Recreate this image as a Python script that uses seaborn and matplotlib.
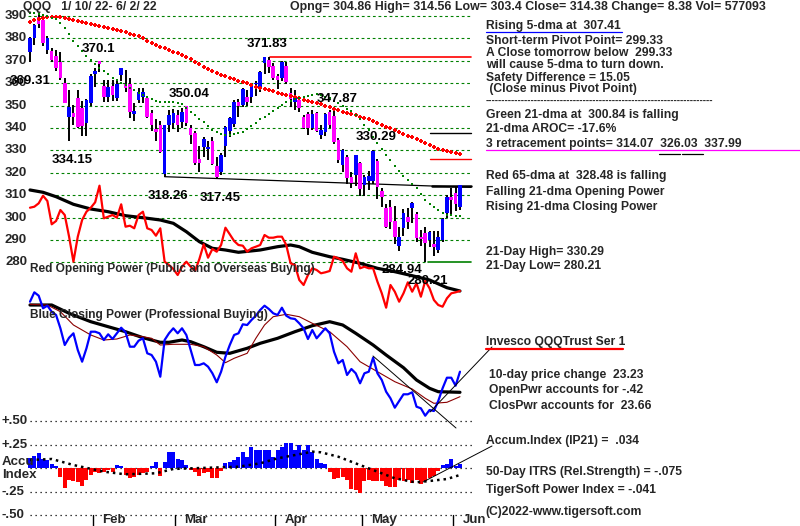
import numpy as np
import pandas as pd
import matplotlib
matplotlib.use("Agg")
import matplotlib.pyplot as plt
from matplotlib.lines import Line2D
import seaborn as sns

# ---------------- data ----------------
holidays = ["2022-01-17", "2022-02-21", "2022-04-15", "2022-05-30"]
dates = pd.bdate_range("2022-01-10", "2022-06-02")
dates = dates[~dates.isin(pd.to_datetime(holidays))]

opens = [374.0, 380.0, 389.7, 388.0, 374.8, 374.3, 372.1, 369.6, 360.0, 345.0,
         346.6, 353.3, 348.8, 342.3, 351.0, 364.0, 369.9, 358.8, 353.7, 358.8,
         353.5, 363.6, 359.6, 359.6, 346.3, 352.5, 354.0, 353.3, 346.6, 339.5,
         341.3, 319.5, 341.3, 342.1, 345.8, 342.9, 349.8, 340.0, 337.6, 326.0,
         331.7, 330.5, 334.3, 323.2, 320.2, 332.0, 338.5, 341.8, 351.5, 350.3,
         353.7, 353.7, 359.5, 358.5, 368.9, 370.4, 367.6, 363.0, 362.2, 367.7,
         355.8, 351.7, 352.6, 345.0, 346.3, 340.0, 346.6, 336.9, 338.0, 347.3,
         345.5, 334.5, 323.6, 327.2, 318.0, 319.0, 324.2, 314.6, 316.5, 316.3,
         325.4, 311.7, 304.3, 304.9, 298.6, 287.3, 295.2, 300.1, 304.4, 301.6,
         291.5, 293.3, 290.0, 288.2, 285.5, 290.0, 302.2, 309.3, 310.9, 304.86]
highs = [380.5, 386.5, 390.4, 388.5, 381.0, 375.5, 374.8, 374.0, 362.3, 357.0,
         350.3, 357.0, 352.0, 353.0, 364.0, 366.6, 370.1, 361.4, 361.5, 361.4,
         362.0, 367.0, 366.0, 362.5, 351.0, 358.0, 358.0, 354.5, 348.0, 344.0,
         343.0, 341.5, 348.0, 348.5, 348.0, 349.0, 350.04, 341.5, 338.5, 332.0,
         336.0, 334.0, 336.0, 327.0, 329.0, 341.0, 345.0, 352.5, 353.0, 358.0,
         357.0, 360.0, 361.0, 365.5, 371.83, 371.5, 369.0, 364.0, 370.0, 369.5,
         358.0, 357.0, 353.5, 346.0, 347.0, 347.87, 347.0, 341.5, 346.5, 348.0,
         348.0, 335.5, 330.5, 328.0, 320.5, 328.0, 325.0, 319.0, 320.6, 330.29,
         326.0, 313.0, 306.0, 308.0, 305.0, 296.0, 304.0, 304.5, 306.8, 302.5,
         294.5, 296.0, 294.0, 294.0, 294.0, 300.0, 310.0, 313.0, 313.5, 314.56]
lows = [369.31, 377.0, 384.5, 376.5, 373.0, 369.6, 365.5, 361.5, 351.0, 334.15,
        341.3, 340.0, 336.5, 336.6, 350.0, 358.5, 365.0, 351.7, 351.5, 352.0,
        352.0, 361.0, 356.0, 344.5, 343.0, 351.0, 351.0, 344.5, 338.5, 334.0,
        329.0, 318.26, 338.0, 339.5, 338.0, 340.0, 341.0, 333.0, 323.5, 320.5,
        327.0, 325.5, 323.5, 317.45, 319.0, 327.0, 336.0, 340.5, 345.0, 349.5,
        350.0, 351.0, 354.5, 356.0, 364.0, 364.5, 361.5, 357.5, 361.0, 359.5,
        349.5, 348.0, 347.0, 339.5, 337.0, 339.0, 338.0, 335.0, 336.5, 340.0,
        333.0, 324.5, 320.5, 315.0, 313.0, 314.0, 309.8, 309.8, 312.5, 315.0,
        308.5, 304.9, 295.5, 295.0, 288.0, 284.94, 292.0, 295.0, 297.5, 289.3,
        287.5, 280.21, 287.0, 283.0, 284.0, 289.0, 300.0, 301.0, 303.0, 303.4]
closes = [380.0, 386.0, 386.5, 377.8, 380.3, 370.4, 366.7, 362.2, 351.3, 349.2,
          344.8, 340.6, 341.0, 352.4, 363.2, 365.4, 368.4, 353.7, 358.5, 354.9,
          359.6, 366.6, 357.7, 347.3, 347.8, 356.2, 356.0, 345.0, 341.3, 338.0,
          329.4, 341.3, 345.8, 346.6, 341.3, 347.3, 342.1, 336.9, 324.2, 324.5,
          335.0, 331.7, 323.9, 318.3, 328.1, 340.3, 344.4, 351.7, 350.0, 357.3,
          351.7, 359.6, 359.8, 365.1, 371.6, 367.1, 362.2, 361.4, 369.6, 360.6,
          352.9, 354.1, 348.8, 340.0, 339.9, 346.3, 338.5, 338.9, 346.3, 341.3,
          333.9, 325.7, 330.0, 317.8, 315.5, 328.0, 312.6, 318.3, 318.6, 329.9,
          313.5, 309.1, 296.0, 298.2, 291.5, 291.5, 302.2, 298.2, 306.7, 290.8,
          290.5, 288.8, 293.7, 286.7, 291.2, 299.4, 309.0, 307.9, 306.0, 314.38]

ma65 = [387.5, 388.2, 388.8, 389.3, 389.5, 389.6, 389.6, 389.5, 389.2, 388.8,
        388.3, 387.9, 387.4, 386.9, 386.4, 385.9, 385.4, 385.0, 384.5, 384.1,
        383.6, 383.2, 382.8, 382.1, 381.6, 381.0, 380.0, 378.9, 377.8, 377.0,
        376.3, 375.5, 374.8, 374.1, 373.3, 372.6, 371.8, 370.7, 369.6, 368.5,
        367.4, 366.4, 365.4, 364.4, 363.7, 363.0, 362.4, 361.7, 361.1, 360.6,
        360.0, 359.3, 358.5, 357.8, 357.3, 356.8, 356.3, 355.8, 355.3, 354.7,
        354.2, 353.7, 353.2, 352.7, 352.2, 351.7, 351.1, 350.5, 349.8, 349.2,
        348.5, 347.9, 347.3, 346.7, 346.1, 345.6, 345.0, 344.4, 343.9, 343.3,
        342.4, 341.5, 340.6, 339.8, 339.0, 338.1, 337.3, 336.5, 335.8, 335.0,
        334.3, 333.4, 332.5, 331.5, 330.6, 330.1, 329.6, 329.1, 328.7, 328.48]
ma21 = [391.5, 391.2, 390.8, 390.3, 389.8, 389.3, 388.6, 387.0, 384.8, 381.8,
        379.0, 376.8, 374.3, 372.3, 370.5, 368.5, 366.6, 365.3, 363.9, 362.5,
        361.5, 360.3, 359.0, 357.8, 356.8, 355.8, 354.8, 353.8, 352.9, 352.0,
        351.7, 351.6, 351.6, 351.5, 351.2, 350.6, 348.8, 347.2, 345.7, 344.2,
        342.7, 341.0, 339.3, 338.2, 337.2, 336.9, 336.9, 337.2, 337.8, 338.2,
        339.6, 340.9, 342.3, 343.9, 345.1, 346.3, 347.6, 349.0, 350.3, 351.5,
        352.2, 352.9, 353.5, 354.0, 354.5, 354.9, 355.0, 354.8, 354.0, 353.2,
        352.2, 351.0, 349.8, 348.5, 347.5, 345.8, 343.8, 341.5, 339.0, 336.0,
        333.2, 330.5, 328.0, 325.5, 323.2, 320.9, 318.5, 316.8, 315.2, 313.0,
        310.4, 307.9, 306.1, 304.6, 303.3, 302.2, 301.3, 301.0, 300.8, 300.84]

# Opening Power / Closing Power (arbitrary power units)
open_power = [222.3, 223.3, 226.7, 234.3, 229.0, 205.7, 209.0, 220.0, 215.0, 193.3,
              168.3, 193.3, 210.0, 218.3, 222.3, 227.7, 244.3, 211.7, 213.3, 215.0,
              212.3, 225.7, 203.3, 204.3, 201.7, 215.0, 218.3, 201.7, 200.0, 194.3,
              201.7, 168.3, 165.0, 161.0, 155.0, 163.3, 168.3, 163.3, 159.0, 171.0,
              185.7, 172.3, 181.0, 178.3, 185.0, 202.3, 195.7, 189.0, 185.0, 184.3,
              178.3, 181.7, 183.3, 185.0, 195.0, 192.3, 192.3, 193.3, 193.3, 185.0,
              166.7, 165.0, 150.0, 145.0, 155.0, 161.7, 160.0, 156.7, 157.7, 159.0,
              173.3, 171.7, 169.0, 161.7, 158.3, 176.7, 161.7, 163.3, 161.7, 161.7,
              148.3, 136.7, 122.3, 145.0, 138.3, 128.3, 136.7, 147.7, 138.3, 146.7,
              133.3, 149.0, 141.7, 130.0, 125.0, 123.3, 131.7, 136.7, 137.7, 139.0]
op_ma_x = [0, 3, 6, 10, 14, 18, 22, 26, 30, 33, 36, 39, 42, 45, 48, 53, 57, 60,
           62, 65, 69, 72, 76, 80, 84, 88, 92, 96, 99]
op_ma = [240.0, 237.7, 233.3, 225.7, 221.0, 218.3, 214.3, 212.3, 210.0, 206.7,
         198.3, 188.3, 181.7, 180.0, 177.7, 180.0, 183.3, 185.0, 183.3, 177.7,
         173.3, 170.7, 166.7, 161.7, 158.3, 154.3, 150.0, 142.3, 139.0]

close_power = [128.3, 137.7, 134.3, 121.7, 124.3, 118.3, 115.0, 101.7, 85.0, 92.3,
               96.7, 80.0, 68.3, 81.7, 98.3, 98.3, 96.7, 90.0, 95.7, 91.0,
               96.7, 102.3, 97.7, 83.3, 83.3, 89.3, 91.7, 76.7, 75.0, 68.3,
               53.3, 90.0, 96.7, 101.7, 96.7, 101.7, 95.0, 80.0, 65.0, 65.0,
               66.7, 63.3, 56.7, 47.7, 58.3, 73.3, 85.0, 95.0, 96.7, 105.7,
               105.0, 110.0, 114.3, 120.0, 124.3, 121.0, 116.7, 115.0, 122.3, 114.3,
               111.7, 111.0, 106.7, 101.7, 91.0, 100.0, 91.7, 96.7, 101.7, 96.7,
               78.3, 66.7, 70.0, 55.0, 61.0, 56.7, 46.7, 56.7, 58.3, 72.3,
               56.7, 50.0, 38.3, 31.7, 22.3, 29.0, 35.7, 35.7, 37.7, 23.3,
               21.7, 14.3, 20.0, 19.0, 29.0, 41.7, 52.3, 52.3, 44.3, 58.3]
cp_ma_x = [0, 5, 9, 14, 18, 22, 26, 30, 32, 35, 37, 40, 43, 46, 50, 53, 57, 61,
           65, 69, 72, 75, 79, 82, 86, 89, 92, 94, 99]
cp_ma = [125.0, 125.0, 116.7, 108.3, 103.3, 98.3, 92.3, 87.7, 87.7, 90.0,
         88.3, 83.3, 77.7, 76.7, 81.7, 86.7, 91.7, 98.3, 104.3, 108.3,
         105.0, 96.7, 85.0, 75.0, 62.3, 50.0, 41.7, 38.3, 37.7]
cp_ma2_x = [0, 4, 7, 10, 14, 17, 20, 23, 26, 28, 30, 33, 37, 40, 43, 45, 47, 50,
            52, 54, 56, 59, 62, 65, 69, 73, 76, 80, 84, 88, 91, 93, 96, 99]
cp_ma2 = [125.7, 125.0, 118.3, 105.0, 95.0, 90.0, 91.0, 95.0, 93.3, 91.7,
          85.0, 85.7, 85.7, 83.3, 75.0, 67.3, 71.7, 76.7, 91.7, 105.0,
          113.3, 115.7, 113.3, 106.7, 98.3, 83.3, 68.3, 58.3, 48.3, 41.0,
          31.7, 26.7, 27.7, 33.3]

accum = [0.106, 0.13, 0.166, 0.096, 0.088, 0.046, 0.02, -0.09, -0.21, -0.12,
         -0.13, -0.15, -0.19, -0.125, -0.07, -0.036, -0.05, -0.04, -0.02, -0.035,
         0.035, 0.02, -0.07, -0.106, -0.09, -0.07, -0.053, -0.035, 0.02, 0.07,
         -0.08, 0.07, 0.177, 0.177, 0.096, 0.088, 0.035, -0.02, -0.035, -0.08,
         -0.05, -0.035, -0.106, -0.106, -0.03, 0.053, 0.07, 0.088, 0.124, 0.177,
         0.124, 0.23, 0.195, 0.19, 0.19, 0.19, 0.124, 0.2, 0.23, 0.27,
         0.27, 0.2, 0.248, 0.19, 0.248, 0.177, 0.096, 0.06, 0.046, -0.035,
         -0.117, -0.106, -0.09, -0.124, -0.223, -0.23, -0.266, -0.14, -0.124, -0.14,
         -0.14, -0.13, -0.19, -0.195, -0.2, -0.124, -0.14, -0.124, -0.16, -0.124,
         -0.165, -0.14, -0.106, -0.08, -0.03, 0.035, 0.046, 0.096, 0.025, 0.046]
ai_ma_x = [0, 5, 10, 17, 22, 29, 33, 48, 53, 57, 61, 65, 67, 71, 74, 77, 80, 84,
           88, 89, 92, 96, 99]
ai_ma = [0.088, 0.099, 0.035, -0.036, -0.064, -0.053, -0.007, 0.017, 0.053, 0.106,
         0.141, 0.177, 0.17, 0.123, 0.07, 0.017, -0.036, -0.106, -0.143, -0.149,
         -0.135, -0.114, -0.071]

price_ticks = [390, 380, 370, 360, 350, 340, 330, 320, 310, 300, 290, 280]
ai_ticks = [0.50, 0.25, 0.0, -0.25, -0.50]
ai_tick_labels = ["+.50", "+.25", "", "-.25", "-.50"]
retrace = [314.07, 326.03, 337.99]
high_371 = 371.83
low21 = 280.21
trend_lows = [(31, 318.26), (43, 317.45)]

peak_labels = [("370.1", 82, 49), ("369.31", 10, 81), ("334.15", 52, 160),
               ("350.04", 169, 94), ("318.26", 148, 196), ("317.45", 200, 198),
               ("371.83", 247, 44), ("347.87", 317, 99), ("330.29", 356, 137),
               ("284.94", 382, 270), ("280.21", 408, 281)]

# ---------------- layout helpers ----------------
W, H = 800, 526
X0, DX = 30.0, 4.343          # pixel of first bar, pixels per trading day
def xi(px):
    return (px - X0) / DX
XL = (xi(0), xi(W))
PY0, PPD = 16.0, 2.24         # pixel of 390 gridline, pixels per dollar
def pr(pyx):
    return 390 - (pyx - PY0) / PPD
POW0 = 430.0                  # power units = POW0 - pixel
AI0, AIS = 468.3, 94.0        # zero pixel, pixels per 1.0 of accum index

sns.set_theme(style="white")
plt.rcParams["font.family"] = ["Liberation Sans", "DejaVu Sans"]
plt.rcParams["font.weight"] = "bold"

fig = plt.figure(figsize=(8, 5.26), dpi=100)
fig.patch.set_facecolor("white")
axp = fig.add_axes([0, 0, 1, 1])
axw = fig.add_axes([0, 0, 1, 1])
axa = fig.add_axes([0, 0, 1, 1])
axp.set_ylim(pr(H), pr(0))
axw.set_ylim(POW0 - H, POW0)
axa.set_ylim((AI0 - H) / AIS, AI0 / AIS)
for a in (axp, axw, axa):
    a.set_xlim(*XL)
    a.set_axis_off()
    a.patch.set_alpha(0)

idx = np.arange(len(dates))
BLUE, MAG, RED, GRN = "#0000ff", "#ff00ff", "#ff0000", "#008000"

# ---------------- price panel ----------------
gx0, gx1 = xi(50), xi(472)
for p in price_ticks:
    x0 = xi(28) if p == 390 else gx0
    x1 = xi(428) if p == 280 else gx1
    axp.plot([x0, x1], [p, p], color=GRN, lw=0.8, ls=(0, (2.5, 2.5)), zorder=1)
    fig.text(27 / W, 1 - (PY0 + (390 - p) * PPD) / H, str(p), ha="right",
             va="center", fontsize=9.5, fontweight="bold")
axp.plot([xi(428), xi(471)], [low21, low21], color=GRN, lw=1.2, zorder=1)

# trendline through the two lows
(tx0, ty0), (tx1, ty1) = trend_lows
slope = (ty1 - ty0) / (tx1 - tx0)
tx2 = xi(471)
axp.plot([tx0, tx2], [ty0, ty0 + slope * (tx2 - tx0)], color="black", lw=0.9, zorder=2)
axp.plot([xi(270), xi(471)], [high_371, high_371], color=RED, lw=1.2, zorder=2)
axp.plot([xi(430), xi(471)], [retrace[2], retrace[2]], color="black", lw=1.0, zorder=2)
axp.plot([xi(430), xi(471)], [retrace[1], retrace[1]], color=RED, lw=1.0, zorder=2)
axp.plot([xi(432), xi(471)], [retrace[0], retrace[0]], color="black", lw=1.8, zorder=2)

o = np.array(opens); c = np.array(closes)
cols = [BLUE if cc >= oo else MAG for oo, cc in zip(o, c)]
axp.vlines(idx, lows, highs, color="black", lw=1.4, zorder=3)
body = np.where(np.abs(c - o) < 0.6, np.sign(c - o + 1e-9) * 0.6, c - o)
axp.bar(idx, body, bottom=o, width=0.82, color=cols, linewidth=0, zorder=4)

sns.scatterplot(x=idx, y=ma65, ax=axp, marker="P", s=8, color=RED,
                linewidth=0, zorder=5, legend=False)
sns.scatterplot(x=idx, y=ma21, ax=axp, marker="s", s=3.5, color=GRN,
                linewidth=0, zorder=5, legend=False)

for txt, px, pyx in peak_labels:
    fig.text(px / W, 1 - pyx / H, txt, ha="left", va="center",
             fontsize=9.5, fontweight="bold", color="black")

# ---------------- power panel ----------------
sns.lineplot(x=op_ma_x, y=op_ma, ax=axw, color="black", lw=2.3, zorder=3)
sns.lineplot(x=idx, y=open_power, ax=axw, color=RED, lw=1.6, zorder=4)
sns.lineplot(x=cp_ma_x, y=cp_ma, ax=axw, color="black", lw=2.3, zorder=3)
sns.lineplot(x=cp_ma2_x, y=cp_ma2, ax=axw, color="#8b0000", lw=0.8, zorder=3)
sns.lineplot(x=idx, y=close_power, ax=axw, color=BLUE, lw=1.6, zorder=4)
# trend lines on closing power
axw.plot([xi(373), xi(456)], [POW0 - 356, POW0 - 428], color="black", lw=0.7, zorder=5)
axw.plot([xi(430), xi(492)], [POW0 - 412, POW0 - 347], color="black", lw=0.7,
         zorder=5, clip_on=False)

fig.text(30 / W, 1 - 269 / H, "Red Opening Power (Public and Overseas Buying)",
         ha="left", va="center", fontsize=8.6, fontweight="bold")
fig.text(30 / W, 1 - 315 / H, "Blue Closing Power (Professional Buying)",
         ha="left", va="center", fontsize=8.6, fontweight="bold")

# ---------------- accumulation index panel ----------------
for v in ai_ticks:
    axa.plot([xi(30), xi(472)], [v, v], color="black", lw=0.9, ls=(0, (1, 3)), zorder=1)
for v, lab in zip(ai_ticks, ai_tick_labels):
    if lab:
        fig.text(2 / W, 1 - (AI0 - v * AIS) / H, lab, ha="left", va="center",
                 fontsize=9.5, fontweight="bold")
acc = np.array(accum)
axa.bar(idx, acc, width=0.92, color=[BLUE if v >= 0 else RED for v in acc],
        linewidth=0, zorder=2)
sns.lineplot(x=ai_ma_x, y=ai_ma, ax=axa, color="black", lw=1.8,
             ls=(0, (1, 1.6)), zorder=3)
axa.plot([xi(423), xi(492)], [(AI0 - 482) / AIS, (AI0 - 446) / AIS],
         color="black", lw=0.7, zorder=4, clip_on=False)
fig.text(2 / W, 1 - 462 / H, "Accu", ha="left", va="center", fontsize=9.5, fontweight="bold")
fig.text(2 / W, 1 - 475 / H, "Index", ha="left", va="center", fontsize=9.5, fontweight="bold")

# month ticks
month_starts = [i for i in range(1, len(dates)) if dates[i].month != dates[i - 1].month]
for i in month_starts:
    axa.plot([i - 0.5, i - 0.5], [(AI0 - 515) / AIS, (AI0 - 526) / AIS],
             color="black", lw=1.0, clip_on=False)
    fig.text((X0 + (i - 0.5 + 2.1) * DX) / W, 1 - 520 / H, dates[i].strftime("%b"),
             ha="left", va="center", fontsize=9.5, fontweight="bold")

# ---------------- header and side text ----------------
fs = 8.7
fig.text(23 / W, 1 - 7 / H, "QQQ   1/ 10/ 22- 6/ 2/ 22", ha="left", va="center",
         fontsize=fs, fontweight="bold")
fig.text(290 / W, 1 - 7 / H,
         "Opng= 304.86 High= 314.56 Low= 303.4 Close= 314.38 Change= 8.38 Vol= 577093",
         ha="left", va="center", fontsize=8.9, fontweight="bold")

side = [(485.7, 26, "Rising 5-dma at  307.41"),
        (485.7, 40.7, "Short-term Pivot Point= 299.33"),
        (485.7, 52.7, "A Close tomorrow below  299.33"),
        (485.7, 65, "will cause 5-dma to turn down."),
        (485.7, 78.3, "Safety Difference = 15.05"),
        (485.7, 89.3, " (Close minus Pivot Point)"),
        (485.7, 115, "Green 21-dma at  300.84 is falling"),
        (485.7, 129.3, "21-dma AROC= -17.6%"),
        (485.7, 144, "3 retracement points= 314.07  326.03  337.99"),
        (485.7, 176, "Red 65-dma at  328.48 is falling"),
        (485.7, 192.3, "Falling 21-dma Opening Power"),
        (485.7, 206.7, "Rising 21-dma Closing Power"),
        (485.7, 251.7, "21-Day High= 330.29"),
        (485.7, 266, "21-Day Low= 280.21"),
        (485.7, 341.7, "Invesco QQQTrust Ser 1"),
        (489.3, 375, "10-day price change  23.23"),
        (489.3, 390, "OpenPwr accounts for -.42"),
        (489.3, 405.7, "ClosPwr accounts for  23.66"),
        (485.7, 441, "Accum.Index (IP21) =  .034"),
        (485.7, 471.7, "50-Day ITRS (Rel.Strength) = -.075"),
        (485.7, 490, "TigerSoft Power Index = -.041"),
        (485.7, 511.7, "(C)2022-www.tigersoft.com")]
for px, pyx, s in side:
    fig.text(px / W, 1 - pyx / H, s, ha="left", va="center", fontsize=fs,
             fontweight="bold")
# separator row of dashes
fig.text(485.7 / W, 1 - 100.5 / H, "-" * 70, ha="left", va="center",
         fontsize=7.0, fontweight="bold")

def hline(x0, x1, yy, color, lw):
    fig.add_artist(Line2D([x0 / W, x1 / W], [1 - yy / H, 1 - yy / H],
                          color=color, lw=lw, transform=fig.transFigure))
hline(485.7, 621.7, 32.3, BLUE, 0.9)
hline(485.7, 800, 150, MAG, 0.9)
hline(659, 680, 154, "black", 0.9)
hline(682, 703, 154, "black", 0.9)
hline(485.7, 622.7, 348.7, RED, 1.6)

fig.savefig("out.png", dpi=100, facecolor="white")
